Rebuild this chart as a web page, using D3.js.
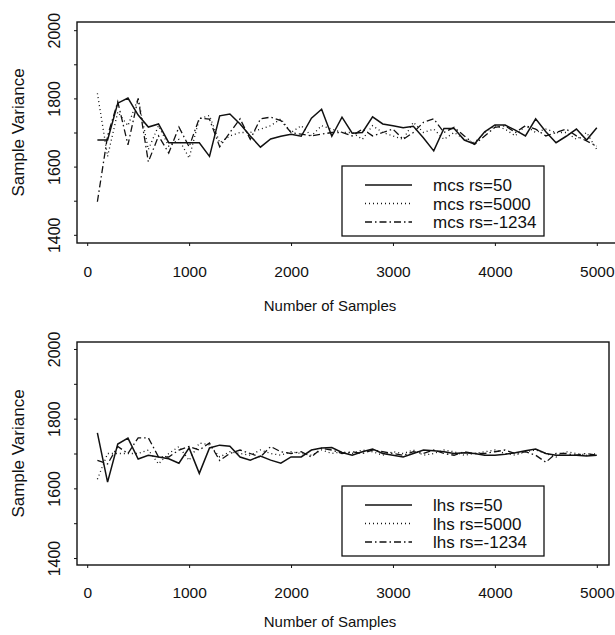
<!DOCTYPE html>
<html>
<head>
<meta charset="utf-8">
<script src="https://cdn.jsdelivr.net/npm/d3@7"></script>
<style>
  body { margin: 0; background: #fff; }
  text { font-family: "Liberation Sans", Arial, Helvetica, sans-serif; fill: #111; }
</style>
</head>
<body>
<div id="chart"></div>
<script>
// sample sizes (x) shared by every series
var samples = [100, 200, 300, 400, 500, 600, 700, 800, 900, 1000,
               1100, 1200, 1300, 1400, 1500, 1600, 1700, 1800, 1900, 2000,
               2100, 2200, 2300, 2400, 2500, 2600, 2700, 2800, 2900, 3000,
               3100, 3200, 3300, 3400, 3500, 3600, 3700, 3800, 3900, 4000,
               4100, 4200, 4300, 4400, 4500, 4600, 4700, 4800, 4900, 5000];

// monte carlo sampling
var mcsRs50 = [1678, 1678, 1786, 1801, 1751, 1716, 1725, 1670, 1670, 1670,
               1670, 1630, 1749, 1754, 1725, 1690, 1657, 1681, 1689, 1695,
               1689, 1742, 1768, 1689, 1745, 1698, 1700, 1746, 1725, 1720,
               1714, 1718, 1684, 1646, 1712, 1712, 1678, 1666, 1702, 1722,
               1722, 1707, 1690, 1740, 1702, 1670, 1689, 1710, 1678, 1714];
var mcsRs5000 = [1815, 1630, 1760, 1720, 1800, 1650, 1720, 1660, 1680, 1625,
                 1740, 1750, 1670, 1690, 1700, 1700, 1710, 1720, 1740, 1700,
                 1720, 1690, 1720, 1710, 1700, 1700, 1680, 1720, 1700, 1690,
                 1680, 1730, 1700, 1710, 1680, 1700, 1680, 1670, 1700, 1720,
                 1710, 1690, 1720, 1700, 1710, 1700, 1700, 1680, 1700, 1650];
var mcsRsNeg1234 = [1497, 1690, 1790, 1664, 1800, 1614, 1690, 1640, 1716, 1658,
                    1742, 1739, 1658, 1700, 1740, 1680, 1740, 1745, 1735, 1700,
                    1695, 1690, 1695, 1700, 1700, 1690, 1710, 1690, 1700, 1710,
                    1680, 1700, 1730, 1740, 1700, 1715, 1690, 1665, 1690, 1715,
                    1720, 1700, 1720, 1710, 1690, 1700, 1710, 1690, 1675, 1660];

// latin hypercube sampling
var lhsRs50 = [1759, 1618, 1727, 1744, 1684, 1695, 1690, 1685, 1672, 1716,
               1643, 1716, 1724, 1721, 1690, 1681, 1693, 1681, 1672, 1690,
               1690, 1710, 1716, 1717, 1703, 1695, 1705, 1713, 1700, 1695,
               1690, 1700, 1710, 1708, 1705, 1700, 1702, 1700, 1695, 1695,
               1698, 1702, 1708, 1713, 1700, 1695, 1695, 1695, 1693, 1695];
var lhsRs5000 = [1626, 1700, 1700, 1700, 1700, 1710, 1670, 1700, 1720, 1680,
                 1730, 1725, 1690, 1705, 1700, 1695, 1710, 1700, 1695, 1705,
                 1700, 1695, 1710, 1700, 1705, 1700, 1710, 1705, 1695, 1705,
                 1700, 1710, 1695, 1700, 1710, 1705, 1695, 1700, 1705, 1710,
                 1700, 1695, 1705, 1710, 1700, 1690, 1705, 1700, 1695, 1700];
var lhsRsNeg1234 = [1680, 1670, 1720, 1700, 1745, 1745, 1690, 1690, 1710, 1720,
                    1710, 1730, 1680, 1700, 1710, 1700, 1690, 1720, 1705, 1700,
                    1705, 1690, 1715, 1710, 1700, 1705, 1700, 1710, 1705, 1700,
                    1695, 1705, 1700, 1710, 1700, 1695, 1705, 1700, 1700, 1705,
                    1710, 1700, 1705, 1695, 1675, 1700, 1700, 1695, 1700, 1695];

var mcsLabels = ["mcs rs=50", "mcs rs=5000", "mcs rs=-1234"];
var lhsLabels = ["lhs rs=50", "lhs rs=5000", "lhs rs=-1234"];

var xTicks = [0, 1000, 2000, 3000, 4000, 5000];
var yTicks = [1400, 1500, 1600, 1700, 1800, 1900, 2000];
var yLabelled = [1400, 1600, 1800, 2000];

// line styles: solid, dotted, dash-dot
var dashes = ["none", "1,3", "7,3,1.5,3"];

var w = 615;
var h = 635;

var svg = d3.select("#chart")
            .append("svg")
            .attr("width", w)
            .attr("height", h);

function drawPanel(opt) {
	var x = d3.scaleLinear()
	          .domain([-100, 5100])
	          .range([77, 607]);
	var y = d3.scaleLinear()
	          .domain(opt.yDomain)
	          .range([opt.bottom, opt.top]);

	var g = svg.append("g");

	// frame
	g.append("rect")
	 .attr("x", 77)
	 .attr("y", opt.top)
	 .attr("width", opt.frameRight - 77)
	 .attr("height", opt.bottom - opt.top)
	 .attr("fill", "none")
	 .attr("stroke", "#111")
	 .attr("stroke-width", 1.4);

	// y axis, ticks every 100, labels every 200 turned sideways
	var yAxis = d3.axisLeft(y)
	              .tickValues(yTicks)
	              .tickSize(3)
	              .tickFormat(function(d) { return yLabelled.indexOf(d) >= 0 ? d : ""; });
	var ya = g.append("g")
	          .attr("transform", "translate(77,0)")
	          .call(yAxis);
	ya.select(".domain").remove();
	ya.selectAll("line").attr("stroke", "#111");
	ya.selectAll("text")
	  .attr("transform", "rotate(-90)")
	  .attr("x", 0)
	  .attr("y", -17)
	  .attr("dy", 0)
	  .attr("text-anchor", "middle")
	  .style("font-size", "16px")
	  .style("font-family", "'Liberation Sans', Arial, sans-serif");

	var xAxis = d3.axisBottom(x)
	              .tickValues(xTicks)
	              .tickFormat(d3.format("d"))
	              .tickSize(3);
	var xa = g.append("g")
	          .attr("transform", "translate(0," + opt.bottom + ")")
	          .call(xAxis);
	xa.select(".domain").remove();
	xa.selectAll("line").attr("stroke", "#111");
	xa.selectAll("text")
	  .attr("y", opt.xLabelOffset)
	  .attr("dy", 0)
	  .style("font-size", "15.5px")
	  .style("font-family", "'Liberation Sans', Arial, sans-serif");

	// axis titles
	g.append("text")
	 .attr("transform", "translate(24," + ((opt.top + opt.bottom) / 2) + ") rotate(-90)")
	 .attr("text-anchor", "middle")
	 .style("font-size", "17px")
	 .text("Sample Variance");
	g.append("text")
	 .attr("x", 330)
	 .attr("y", opt.bottom + opt.titleOffset)
	 .attr("text-anchor", "middle")
	 .style("font-size", "15px")
	 .text("Number of Samples");

	var line = d3.line()
	             .x(function(d) { return x(d[0]); })
	             .y(function(d) { return y(d[1]); });

	opt.series.forEach(function(vals, i) {
		g.append("path")
		 .datum(d3.zip(samples, vals))
		 .attr("d", line)
		 .attr("fill", "none")
		 .attr("stroke", "#111")
		 .attr("stroke-width", i == 0 ? 1.5 : 1.3)
		 .attr("stroke-dasharray", dashes[i]);
	});

	// legend
	var lg = g.append("g");
	lg.append("rect")
	  .attr("x", 342)
	  .attr("y", opt.legendTop)
	  .attr("width", 202)
	  .attr("height", 70)
	  .attr("fill", "#fff")
	  .attr("stroke", "#111")
	  .attr("stroke-width", 1.3);
	opt.labels.forEach(function(lab, i) {
		var ly = opt.legendTop + 19 + i * 18.5;
		lg.append("line")
		  .attr("x1", 365)
		  .attr("x2", 412)
		  .attr("y1", ly)
		  .attr("y2", ly)
		  .attr("stroke", "#111")
		  .attr("stroke-width", i == 0 ? 1.5 : 1.3)
		  .attr("stroke-dasharray", dashes[i]);
		lg.append("text")
		  .attr("x", 433)
		  .attr("y", ly + 6)
		  .style("font-size", "17px")
		  .text(lab);
	});
}

drawPanel({
	top: 22, bottom: 243, frameRight: 617,
	yDomain: [1376, 2024],
	xLabelOffset: 34, titleOffset: 68,
	legendTop: 166,
	series: [mcsRs50, mcsRs5000, mcsRsNeg1234],
	labels: mcsLabels
});

drawPanel({
	top: 342, bottom: 565, frameRight: 609,
	yDomain: [1380, 2020],
	xLabelOffset: 33, titleOffset: 62,
	legendTop: 486,
	series: [lhsRs50, lhsRs5000, lhsRsNeg1234],
	labels: lhsLabels
});
</script>
</body>
</html>
